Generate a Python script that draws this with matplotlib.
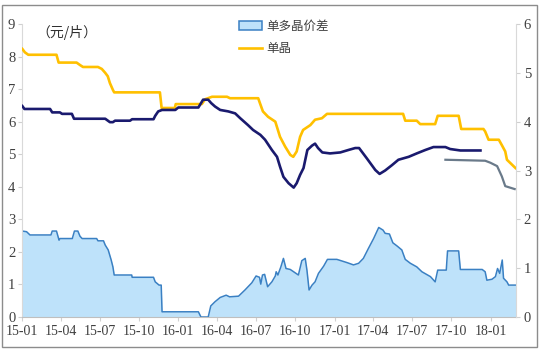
import pandas as pd
import numpy as np
import matplotlib
matplotlib.use("Agg")
import matplotlib.pyplot as plt
import matplotlib.dates as mdates
from matplotlib.patches import Rectangle, Patch
from matplotlib.lines import Line2D

plt.rcParams['font.family'] = ['Liberation Serif', 'Noto Sans CJK SC']

# 单晶 (右轴)
mono_dates = ['2015-01-01', '2015-01-07', '2015-01-15', '2015-03-22', '2015-03-27', '2015-05-08',
              '2015-05-16', '2015-05-23', '2015-06-27', '2015-07-06', '2015-07-14', '2015-07-20',
              '2015-07-25', '2015-08-01', '2015-08-04', '2015-11-19', '2015-11-23', '2015-12-24',
              '2015-12-26', '2016-02-25', '2016-03-04', '2016-03-20', '2016-04-24', '2016-05-01',
              '2016-07-06', '2016-07-10', '2016-07-17', '2016-07-29', '2016-08-15', '2016-08-26',
              '2016-09-07', '2016-09-19', '2016-09-26', '2016-10-04', '2016-10-12', '2016-10-19',
              '2016-11-05', '2016-11-16', '2016-12-02', '2016-12-14', '2017-06-10', '2017-06-15',
              '2017-07-12', '2017-07-20', '2017-08-24', '2017-08-30', '2017-10-18', '2017-10-24',
              '2017-12-15', '2017-12-19', '2017-12-27', '2018-01-20', '2018-01-27', '2018-02-04',
              '2018-02-08', '2018-02-28']
mono_vals = [5.49, 5.42, 5.37, 5.37, 5.21, 5.21,
             5.16, 5.12, 5.12, 5.08, 5.00, 4.93,
             4.79, 4.65, 4.60, 4.60, 4.28, 4.28,
             4.36, 4.36, 4.46, 4.51, 4.51, 4.48,
             4.48, 4.38, 4.21, 4.10, 4.00, 3.69,
             3.49, 3.32, 3.28, 3.39, 3.69, 3.83,
             3.93, 4.04, 4.07, 4.16, 4.16, 4.02,
             4.02, 3.95, 3.95, 4.12, 4.12, 3.85,
             3.85, 3.80, 3.63, 3.63, 3.52, 3.39,
             3.22, 3.05]

# 多晶 (右轴)
poly_dates = ['2015-01-01', '2015-01-06', '2015-03-07', '2015-03-12', '2015-03-30', '2015-04-04',
              '2015-04-27', '2015-05-02', '2015-07-14', '2015-07-25', '2015-08-01', '2015-08-06',
              '2015-09-10', '2015-09-15', '2015-11-04', '2015-11-08', '2015-11-15', '2015-11-24',
              '2015-12-25', '2016-01-01', '2016-02-17', '2016-02-28', '2016-03-11', '2016-03-18',
              '2016-03-27', '2016-04-08', '2016-04-27', '2016-05-13', '2016-05-25', '2016-06-12',
              '2016-06-24', '2016-07-11', '2016-07-22', '2016-08-07', '2016-08-19', '2016-08-26',
              '2016-09-03', '2016-09-15', '2016-09-27', '2016-10-04', '2016-10-12', '2016-10-20',
              '2016-10-29', '2016-11-09', '2016-11-16', '2016-11-23', '2016-12-03', '2016-12-21',
              '2017-01-14', '2017-02-02', '2017-02-18', '2017-02-27', '2017-03-17', '2017-04-06',
              '2017-04-16', '2017-04-29', '2017-05-15', '2017-05-30', '2017-06-23', '2017-07-12',
              '2017-08-01', '2017-08-20', '2017-09-17', '2017-09-28', '2017-10-22', '2017-12-08']
poly_vals = [4.32, 4.26, 4.26, 4.19, 4.19, 4.16,
             4.16, 4.06, 4.06, 3.99, 3.99, 4.02,
             4.02, 4.05, 4.05, 4.12, 4.21, 4.24,
             4.24, 4.29, 4.29, 4.45, 4.45, 4.38,
             4.31, 4.24, 4.21, 4.17, 4.07, 3.93,
             3.83, 3.73, 3.63, 3.42, 3.28, 3.08,
             2.87, 2.74, 2.65, 2.74, 2.91, 3.05,
             3.42, 3.51, 3.55, 3.46, 3.37, 3.35,
             3.37, 3.42, 3.46, 3.46, 3.25, 3.01,
             2.93, 3.00, 3.11, 3.22, 3.28, 3.35,
             3.42, 3.48, 3.48, 3.44, 3.41, 3.41]

# 多晶 新口径 (右轴)
poly2_dates = ['2017-09-17', '2017-12-19', '2017-12-31', '2018-01-16', '2018-01-27', '2018-02-04',
               '2018-02-26']
poly2_vals = [3.22, 3.20, 3.16, 3.09, 2.88, 2.68, 2.62]

# 单多晶价差 (左轴)
gap_dates = ['2015-01-01', '2015-01-11', '2015-01-19', '2015-03-09', '2015-03-12', '2015-03-22',
             '2015-03-28', '2015-03-30', '2015-04-28', '2015-05-03', '2015-05-11', '2015-05-16',
             '2015-05-21', '2015-06-24', '2015-06-27', '2015-07-10', '2015-07-14', '2015-07-21',
             '2015-07-28', '2015-08-01', '2015-08-04', '2015-09-14', '2015-09-15', '2015-11-04',
             '2015-11-08', '2015-11-17', '2015-11-22', '2015-11-24', '2016-02-17', '2016-02-23',
             '2016-03-11', '2016-03-17', '2016-03-27', '2016-04-08', '2016-04-22', '2016-04-30',
             '2016-05-21', '2016-06-05', '2016-06-21', '2016-07-01', '2016-07-09', '2016-07-12',
             '2016-07-16', '2016-07-21', '2016-07-28', '2016-08-07', '2016-08-15', '2016-08-17',
             '2016-08-21', '2016-08-28', '2016-09-03', '2016-09-09', '2016-09-19', '2016-10-08',
             '2016-10-16', '2016-10-24', '2016-10-28', '2016-11-02', '2016-11-09', '2016-11-16',
             '2016-11-24', '2016-12-06', '2016-12-15', '2017-01-06', '2017-01-30', '2017-02-14',
             '2017-02-26', '2017-03-09', '2017-03-21', '2017-04-02', '2017-04-14', '2017-04-24',
             '2017-04-29', '2017-05-09', '2017-05-17', '2017-05-27', '2017-06-07', '2017-06-15',
             '2017-06-27', '2017-07-12', '2017-07-24', '2017-08-13', '2017-08-24', '2017-08-30',
             '2017-09-19', '2017-09-22', '2017-10-18', '2017-10-22', '2017-12-12', '2017-12-19',
             '2017-12-23', '2018-01-04', '2018-01-12', '2018-01-17', '2018-01-22', '2018-01-28',
             '2018-01-31', '2018-02-08', '2018-02-12', '2018-02-28']
gap_vals = [2.64, 2.62, 2.52, 2.52, 2.64, 2.64,
            2.36, 2.41, 2.41, 2.64, 2.64, 2.48,
            2.41, 2.41, 2.34, 2.34, 2.21, 2.06,
            1.75, 1.54, 1.29, 1.29, 1.22, 1.22,
            1.08, 0.98, 0.98, 0.16, 0.16, 0.00,
            0.00, 0.34, 0.47, 0.60, 0.67, 0.62,
            0.64, 0.83, 1.05, 1.26, 1.22, 1.01,
            1.29, 1.31, 0.93, 1.08, 1.26, 1.39,
            1.29, 1.54, 1.80, 1.49, 1.46, 1.29,
            1.73, 1.80, 1.44, 0.83, 0.98, 1.08,
            1.34, 1.56, 1.77, 1.77, 1.67, 1.60,
            1.65, 1.80, 2.11, 2.41, 2.75, 2.67,
            2.57, 2.55, 2.28, 2.18, 2.06, 1.77,
            1.65, 1.54, 1.39, 1.24, 1.08, 1.44,
            1.44, 2.03, 2.03, 1.46, 1.46, 1.39,
            1.13, 1.16, 1.24, 1.49, 1.34, 1.75,
            1.19, 1.08, 0.98, 0.98]

mono_dates = pd.to_datetime(mono_dates)
poly_dates = pd.to_datetime(poly_dates)
poly2_dates = pd.to_datetime(poly2_dates)
gap_dates = pd.to_datetime(gap_dates)

fig = plt.figure(figsize=(5.43, 3.51), dpi=100)
ax = fig.add_axes([22.3 / 543, 1 - 317 / 351, (515.5 - 22.3) / 543, 293 / 351])
ax2 = ax.twinx()

# 价差面积
ax.fill_between(gap_dates, gap_vals, 0, color='#BEE2FA', lw=0, zorder=1)
ax.plot(gap_dates, gap_vals, color='#3A80C3', lw=1.1, zorder=2)

# 单晶 / 多晶
ax2.plot(mono_dates, mono_vals, color='#FFC000', lw=1.9, zorder=3)
ax2.plot(poly_dates, poly_vals, color='#1A1A6E', lw=1.9, zorder=3)
ax2.plot(poly2_dates, poly2_vals, color='#6A7A8A', lw=1.6, zorder=3)

ax.set_xlim(pd.Timestamp('2015-01-01'), pd.Timestamp('2018-02-28'))
ax.set_ylim(0, 9)
ax2.set_ylim(0, 6)
ax.set_yticks(range(0, 10))
ax2.set_yticks(range(0, 7))

ax.xaxis.set_major_locator(mdates.MonthLocator(bymonth=[1, 4, 7, 10]))
ax.xaxis.set_major_formatter(mdates.DateFormatter('%y-%m'))

for a in (ax, ax2):
    a.spines['top'].set_visible(False)
    a.tick_params(colors='#D0D0D0', labelcolor='#404040', labelsize=10.5, length=3, width=0.8)
ax.tick_params(axis='x', labelsize=10)
ax.spines['left'].set_color('#D9D9D9')
ax.spines['bottom'].set_color('#BFBFBF')
ax.spines['right'].set_visible(False)
ax2.spines['left'].set_visible(False)
ax2.spines['bottom'].set_visible(False)
ax2.spines['right'].set_color('#D9D9D9')
ax.tick_params(axis='x', pad=3)
ax.tick_params(axis='y', pad=2)
ax2.tick_params(axis='y', pad=3)
ax.set_zorder(ax2.get_zorder() - 1)
ax.patch.set_visible(False)

fig.text(36 / 543, 1 - 32 / 351, '（元/片）', family=['Noto Sans CJK SC'], fontsize=10,
         color='#303030', va='center', ha='left')

handles = [Patch(facecolor='#BEE2FA', edgecolor='#3A80C3', lw=1.1, label='单多晶价差'),
           Line2D([0], [0], color='#FFC000', lw=1.9, label='单晶')]
leg = fig.legend(handles=handles, loc='upper left', bbox_to_anchor=(234 / 543, 1 - 15 / 351),
                 frameon=False, prop={'family': 'Noto Sans CJK SC', 'size': 9},
                 handlelength=1.8, handletextpad=0.4, labelspacing=0.75, borderaxespad=0)
for t in leg.get_texts():
    t.set_color('#404040')

fig.patches.append(Rectangle((2 / 543, 1 - 347 / 351), 535 / 543, 342 / 351,
                             transform=fig.transFigure, fill=False, edgecolor='#8C8C8C', lw=1))

fig.savefig('out.png', dpi=100)
